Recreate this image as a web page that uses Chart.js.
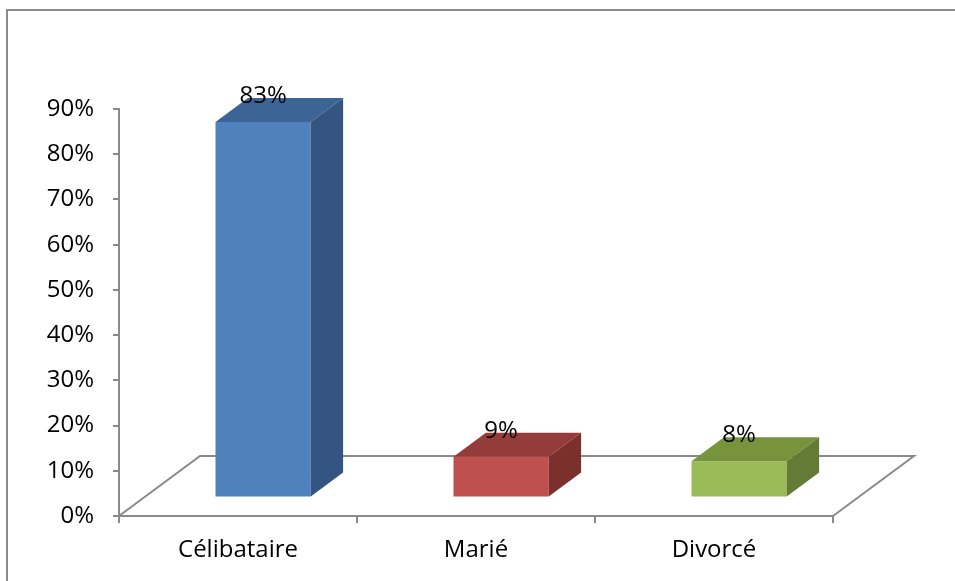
<!DOCTYPE html>
<html>
<head>
<meta charset="utf-8">
<script src="https://cdn.jsdelivr.net/npm/chart.js"></script>
<style>
  html, body { margin: 0; padding: 0; background: #fff; overflow: hidden; }
  #wrap { position: relative; width: 955px; height: 581px; }
  #frame { position: absolute; left: 6px; top: 9px; width: 1000px; height: 1000px;
           border: 2px solid #8a8a8a; box-sizing: border-box; }
  canvas { position: absolute; left: 0; top: 0; }
</style>
</head>
<body>
<div id="wrap">
  <div id="frame"></div>
  <canvas id="myChart" width="955" height="581"></canvas>
</div>
<script>
// data
var categories = ['Célibataire', 'Marié', 'Divorcé'];
var values = [83, 9, 8];
var yTicks = [0, 10, 20, 30, 40, 50, 60, 70, 80, 90];

// face colours: front, top, side
var frontColors = ['#4f81bd', '#c0504d', '#9bbb59'];
var topColors = ['#3c6494', '#943c3a', '#77933c'];
var sideColors = ['#33557f', '#7c302e', '#647b36'];

var FONT = '"Open Sans", sans-serif';
var FONT_SIZE = 24;
var floorDepth = { x: 81, y: -60 };   // depth of the 3d floor
var barShift = 0.31;                   // where the front of the bar sits
var barDepth = 0.40;                   // how deep the bar is

var floorPlugin = {
    id: 'floor',
    beforeDatasetsDraw: function(chart) {
        var a = chart.chartArea;
        var ctx = chart.ctx;
        ctx.save();
        ctx.strokeStyle = '#8a8a8a';
        ctx.lineWidth = 2;
        ctx.beginPath();
        ctx.moveTo(a.left, a.bottom);
        ctx.lineTo(a.left + floorDepth.x, a.bottom + floorDepth.y);
        ctx.lineTo(a.right + floorDepth.x, a.bottom + floorDepth.y);
        ctx.lineTo(a.right, a.bottom);
        ctx.stroke();
        ctx.restore();

        // shift the bars back into the floor
        ctx.save();
        ctx.translate(floorDepth.x * barShift, floorDepth.y * barShift);
    },
    afterDatasetsDraw: function(chart) {
        var ctx = chart.ctx;
        var meta = chart.getDatasetMeta(0);
        var dx = floorDepth.x * barDepth;
        var dy = floorDepth.y * barDepth;
        meta.data.forEach(function(bar, i) {
            var p = bar.getProps(['x', 'y', 'base', 'width'], true);
            var l = p.x - p.width / 2;
            var r = p.x + p.width / 2;
            // top face
            ctx.fillStyle = topColors[i];
            ctx.beginPath();
            ctx.moveTo(l, p.y);
            ctx.lineTo(l + dx, p.y + dy);
            ctx.lineTo(r + dx, p.y + dy);
            ctx.lineTo(r, p.y);
            ctx.closePath();
            ctx.fill();
            // side face
            ctx.fillStyle = sideColors[i];
            ctx.beginPath();
            ctx.moveTo(r, p.y);
            ctx.lineTo(r + dx, p.y + dy);
            ctx.lineTo(r + dx, p.base + dy);
            ctx.lineTo(r, p.base);
            ctx.closePath();
            ctx.fill();
            // value label
            ctx.fillStyle = '#000';
            ctx.font = FONT_SIZE + 'px ' + FONT;
            ctx.textAlign = 'center';
            ctx.textBaseline = 'middle';
            ctx.fillText(values[i] + '%', p.x, p.y - 26);
        });
        ctx.restore();
    }
};

var ctx = 'myChart';
var myChart = new Chart(ctx, {
    type: 'bar',
    data: {
        labels: categories,
        datasets: [{
            data: values,
            backgroundColor: frontColors,
            borderWidth: 0,
            categoryPercentage: 1,
            barPercentage: 0.4
        }]
    },
    options: {
        responsive: false,
        animation: false,
        events: [],
        layout: { padding: { top: 109, right: 122, bottom: 0, left: 0 } },
        plugins: { legend: { display: false }, tooltip: { enabled: false } },
        scales: {
            x: {
                grid: { display: true, drawOnChartArea: false, color: '#8a8a8a', lineWidth: 2, tickLength: 7 },
                border: { display: true, color: '#8a8a8a', width: 2 },
                ticks: { color: '#000', font: { family: FONT, size: FONT_SIZE }, padding: 13, maxRotation: 0 },
                afterFit: function(scale) { scale.height = 65; }
            },
            y: {
                min: 0,
                max: 90,
                afterBuildTicks: function(scale) {
                    scale.ticks = yTicks.map(function(v) { return { value: v }; });
                },
                grid: { display: true, drawOnChartArea: false, color: '#8a8a8a', lineWidth: 2, tickLength: 6 },
                border: { display: true, color: '#8a8a8a', width: 2 },
                ticks: {
                    color: '#000',
                    font: { family: FONT, size: FONT_SIZE },
                    padding: 19,
                    callback: function(v) { return v + '%'; }
                },
                afterFit: function(scale) { scale.width = 119; }
            }
        }
    },
    plugins: [floorPlugin]
});
</script>
</body>
</html>
